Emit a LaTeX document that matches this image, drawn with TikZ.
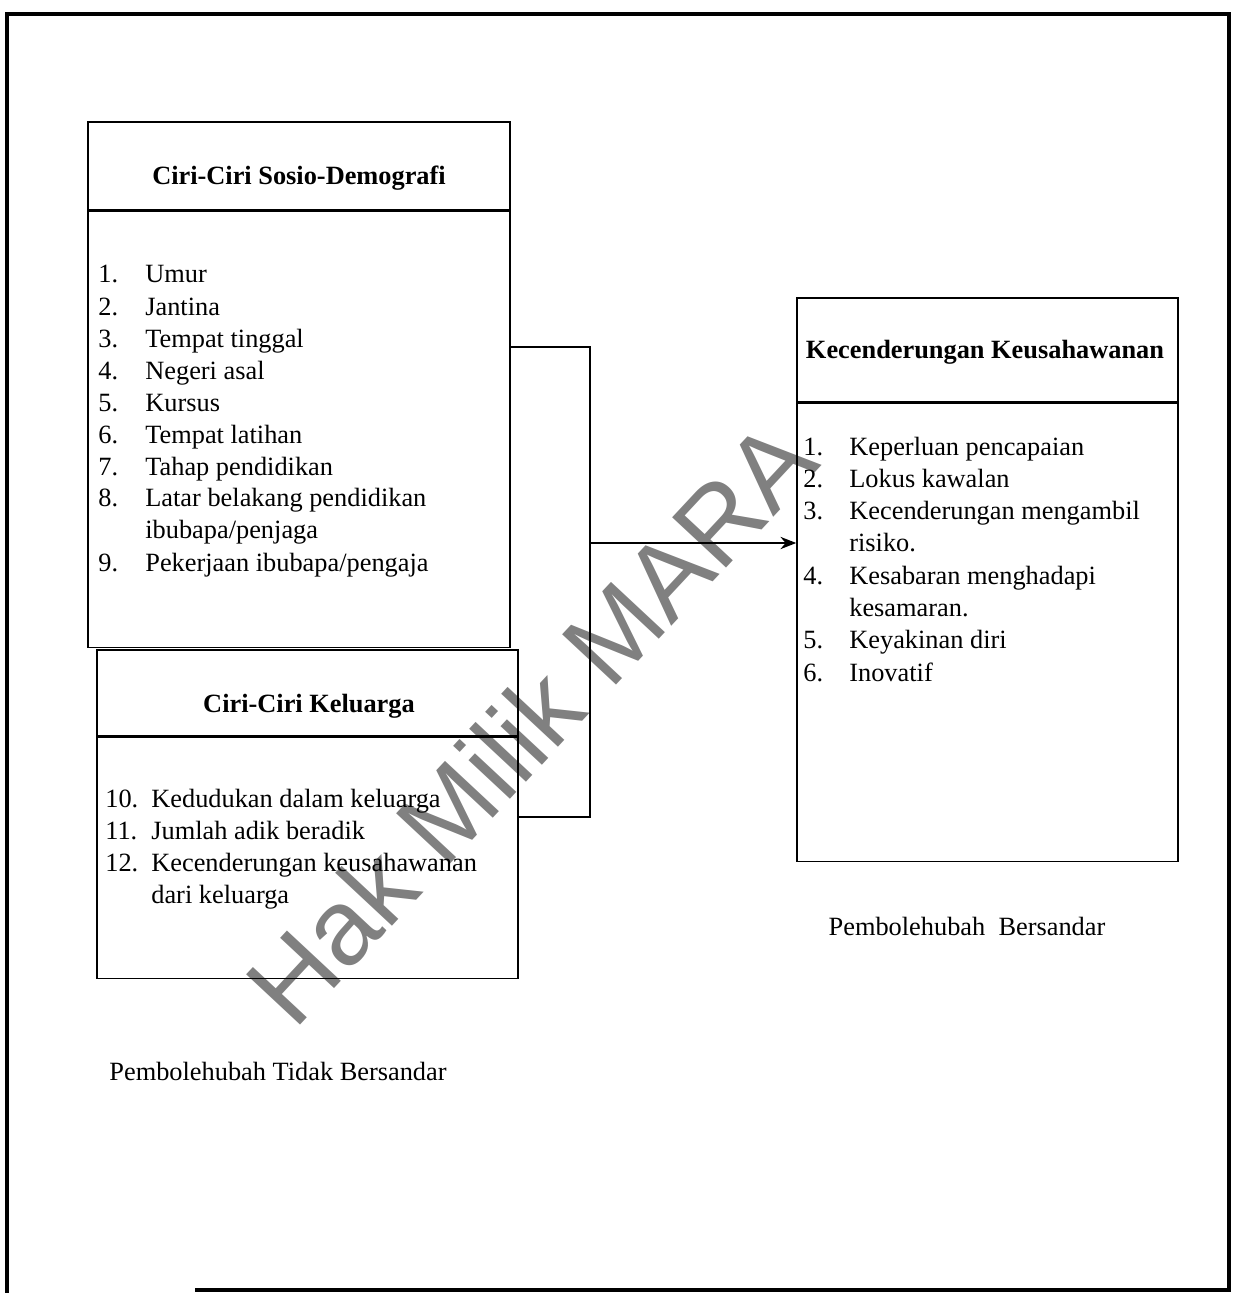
\documentclass[tikz,border=0pt]{standalone}
\usepackage{fontspec}
\setmainfont{Liberation Serif}
\newfontfamily\wmfont{Liberation Sans}
\usetikzlibrary{arrows.meta}
\tikzset{
  panel/.style={draw, line width=0.9pt, inner sep=0pt},
  title/.style={font=\fontsize{15}{18}\selectfont\bfseries},
  item/.style={anchor=west, inner sep=0pt, text height=10pt, text depth=3pt},
  link/.style={line width=0.9pt},
  frame/.style={line width=1.8pt}
}
\begin{document}
\begin{tikzpicture}[x=0.02cm, y=-0.02cm, font=\fontsize{15}{18}\selectfont]
  \useasboundingbox (0,0) rectangle (1235,1293);
  % watermark
  \node[rotate=47, text=black!50, font=\fontsize{61}{64}\selectfont\wmfont] (watermark) at (530,722) {Hak Milik MARA};

  % outer frame
  \draw[frame] (7,1293) -- (7,14) -- (1229,14) -- (1229,1290) -- (195,1290);

  % boxes
  \node[panel, minimum width=8.44cm, minimum height=1.76cm] (sosioHead) at (299,166) {};
  \node[panel, minimum width=8.44cm, minimum height=8.72cm, anchor=north] (sosioBody) at (sosioHead.south) {};
  \node[panel, minimum width=8.42cm, minimum height=1.72cm] (kelHead) at (307.5,693) {};
  \node[panel, minimum width=8.42cm, minimum height=4.82cm, anchor=north] (kelBody) at (kelHead.south) {};
  \node[panel, minimum width=7.62cm, minimum height=2.08cm] (kecHead) at (987.5,350) {};
  \node[panel, minimum width=7.62cm, minimum height=9.16cm, anchor=north] (kecBody) at (kecHead.south) {};

  \node[title] (sosioTitle) at (299,178) {Ciri-Ciri Sosio-Demografi};
  \node[title] (kelTitle) at (309,706) {Ciri-Ciri Keluarga};
  \node[title] (kecTitle) at (985,352) {Kecenderungan Keusahawanan};

  % lists
  \foreach \n/\y/\t [count=\k] in {1./276/Umur, 2./309/Jantina, 3./341/Tempat tinggal,
      4./373/Negeri asal, 5./405/Kursus, 6./437/Tempat latihan, 7./469/Tahap pendidikan,
      8./500/Latar belakang pendidikan, /532/{ibubapa/penjaga}, 9./565/{Pekerjaan ibubapa/pengaja}}
  {
    \node[item] (sosioN\k) at (98,\y) {\n};
    \node[item] (sosioT\k) at (145,\y) {\t};
  }
  \foreach \n/\y/\t [count=\k] in {10./801/Kedudukan dalam keluarga, 11./833/Jumlah adik beradik,
      12./865/Kecenderungan keusahawanan, /897/dari keluarga}
  {
    \node[item] (kelN\k) at (105,\y) {\n};
    \node[item] (kelT\k) at (151,\y) {\t};
  }
  \foreach \n/\y/\t [count=\k] in {1./449/Keperluan pencapaian, 2./481/Lokus kawalan,
      3./513/Kecenderungan mengambil, /545/risiko., 4./578/Kesabaran menghadapi,
      /610/kesamaran., 5./642/Keyakinan diri, 6./675/Inovatif}
  {
    \node[item] (kecN\k) at (803,\y) {\n};
    \node[item] (kecT\k) at (849,\y) {\t};
  }

  % connectors
  \coordinate (brTop) at (590,347);
  \coordinate (brBot) at (590,817);
  \coordinate (brMid) at (590,543);
  \draw[link] (sosioBody.east |- brTop) -- (brTop) -- (brBot) -- (kelBody.east |- brBot);
  \draw[link, -{Stealth[length=9pt, width=7pt]}] (brMid) -- (kecBody.west |- brMid);

  % labels
  \node (indepLabel) at (278,1071) {Pembolehubah Tidak Bersandar};
  \node (depLabel) at (967,926) {Pembolehubah\ \ Bersandar};
\end{tikzpicture}
\end{document}
